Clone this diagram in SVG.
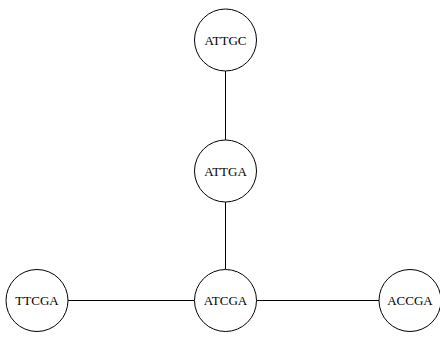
<svg xmlns="http://www.w3.org/2000/svg" width="440" height="342" viewBox="0 0 440 342">
  <style>
    .node circle { fill: #ffffff; stroke: #000000; stroke-width: 1; }
    .node text { font-family: "Liberation Serif", "Times New Roman", serif; font-size: 13px; fill: #000000; text-anchor: middle; dominant-baseline: central; }
    .edges line { stroke: #000000; stroke-width: 1; }
  </style>
  <rect width="440" height="342" fill="#ffffff"/>
  <g class="edges">
    <line x1="225.5" y1="71" x2="225.5" y2="140"/>
    <line x1="225.5" y1="202" x2="225.5" y2="269"/>
    <line x1="68" y1="300.5" x2="194.5" y2="300.5"/>
    <line x1="256.5" y1="300.5" x2="379" y2="300.5"/>
  </g>
  <g id="ATTGC" class="node">
    <circle cx="225.5" cy="40" r="31"/>
    <text x="225.5" y="40">ATTGC</text>
  </g>
  <g id="ATTGA" class="node">
    <circle cx="225.5" cy="171" r="31"/>
    <text x="225.5" y="171">ATTGA</text>
  </g>
  <g id="ATCGA" class="node">
    <circle cx="225.5" cy="300.5" r="31"/>
    <text x="225.5" y="300.5">ATCGA</text>
  </g>
  <g id="TTCGA" class="node">
    <circle cx="37" cy="300.5" r="31"/>
    <text x="37" y="300.5">TTCGA</text>
  </g>
  <g id="ACCGA" class="node">
    <circle cx="410" cy="300.5" r="31"/>
    <text x="410" y="300.5">ACCGA</text>
  </g>
</svg>
